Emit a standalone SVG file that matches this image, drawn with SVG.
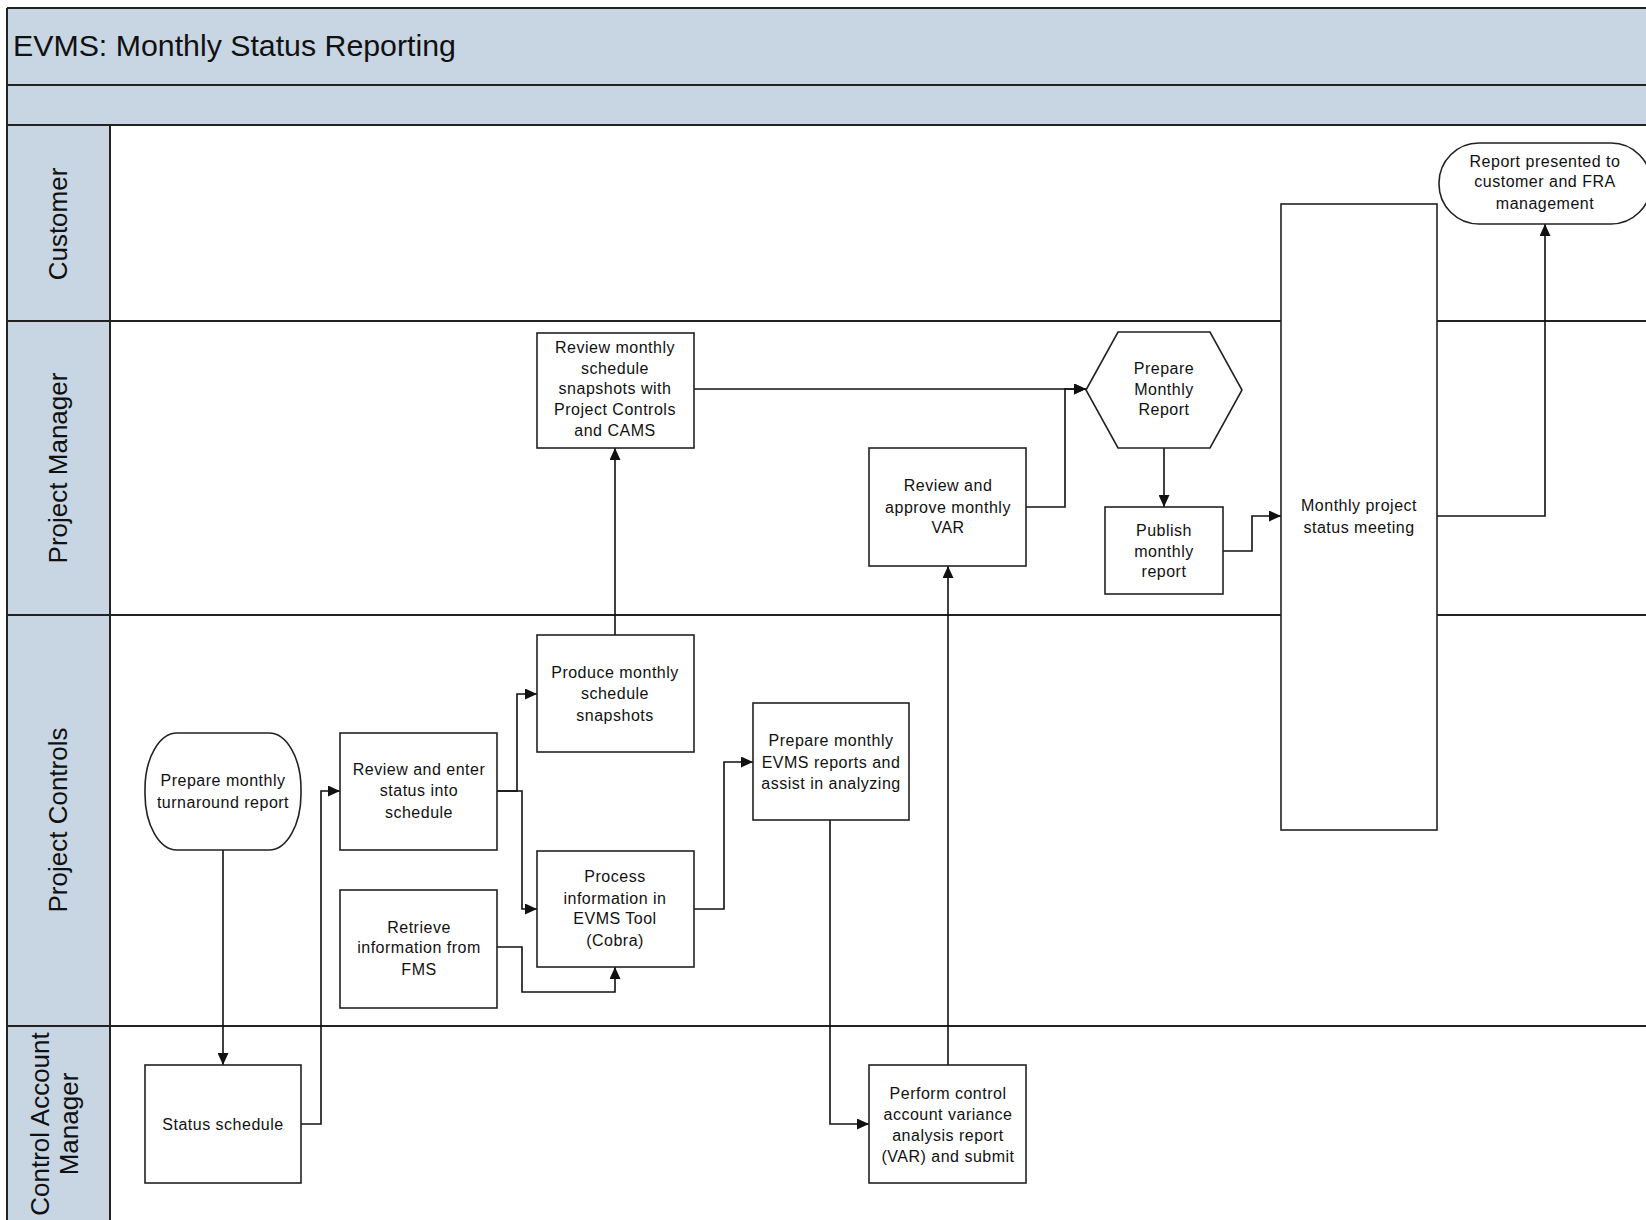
<svg xmlns="http://www.w3.org/2000/svg" width="1646" height="1220" viewBox="0 0 1646 1220">
<style>
.band{fill:#c8d5e3;stroke:none}
.lane{stroke:#222;stroke-width:2;fill:none}
.box{fill:#fff;stroke:#222;stroke-width:1.6}
.t{font-family:"Liberation Sans",Arial,sans-serif;font-size:16px;letter-spacing:0.5px;fill:#111;text-anchor:middle}
.lt{font-family:"Liberation Sans",Arial,sans-serif;font-size:26px;fill:#111;text-anchor:middle}
.title{font-family:"Liberation Sans",Arial,sans-serif;font-size:30.3px;fill:#111}
.c{fill:none;stroke:#111;stroke-width:1.6}
</style>
<defs>
<marker id="ah" markerUnits="userSpaceOnUse" markerWidth="13" markerHeight="11" refX="12" refY="5.5" orient="auto">
<path d="M0,0 L12,5.5 L0,11 z" fill="#111"/>
</marker>
</defs>
<rect x="0" y="0" width="1646" height="1220" fill="#fff"/>
<g id="frame">
<rect class="band" x="7" y="8" width="1639" height="117"/>
<rect class="band" x="7" y="125" width="103" height="1095"/>
<line class="lane" x1="7" y1="8" x2="1646" y2="8"/>
<line class="lane" x1="7" y1="8" x2="7" y2="1220"/>
<line class="lane" x1="7" y1="85" x2="1646" y2="85"/>
<line class="lane" x1="7" y1="125" x2="1646" y2="125"/>
<line class="lane" x1="7" y1="321" x2="1646" y2="321"/>
<line class="lane" x1="7" y1="615" x2="1646" y2="615"/>
<line class="lane" x1="7" y1="1026" x2="1646" y2="1026"/>
<line class="lane" x1="110" y1="125" x2="110" y2="1220"/>
<text class="title" x="13" y="56">EVMS: Monthly Status Reporting</text>
<text class="lt" transform="translate(67,224) rotate(-90)">Customer</text>
<text class="lt" transform="translate(67,468) rotate(-90)">Project Manager</text>
<text class="lt" transform="translate(67,820) rotate(-90)">Project Controls</text>
<text class="lt" transform="translate(49,1124) rotate(-90)">Control Account</text>
<text class="lt" transform="translate(78,1124) rotate(-90)">Manager</text>
</g>
<g id="connectors">
<polyline class="c" points="223,850 223,1065" marker-end="url(#ah)"/>
<polyline class="c" points="301,1124 321,1124 321,791 340,791" marker-end="url(#ah)"/>
<polyline class="c" points="497,791 517,791 517,694 537,694" marker-end="url(#ah)"/>
<polyline class="c" points="497,791 522,791 522,909 537,909" marker-end="url(#ah)"/>
<polyline class="c" points="497,947 522,947 522,992 615,992 615,967" marker-end="url(#ah)"/>
<polyline class="c" points="615,635 615,448" marker-end="url(#ah)"/>
<polyline class="c" points="694,909 724,909 724,762 753,762" marker-end="url(#ah)"/>
<polyline class="c" points="830,820 830,1124 869,1124" marker-end="url(#ah)"/>
<polyline class="c" points="948,1065 948,566" marker-end="url(#ah)"/>
<polyline class="c" points="1026,507 1065,507 1065,389 1086,389" marker-end="url(#ah)"/>
<polyline class="c" points="694,389 1086,389" marker-end="url(#ah)"/>
<polyline class="c" points="1164,448 1164,507" marker-end="url(#ah)"/>
<polyline class="c" points="1223,551 1252,551 1252,516 1281,516" marker-end="url(#ah)"/>
<polyline class="c" points="1437,516 1545,516 1545,224" marker-end="url(#ah)"/>
</g>
<g id="n-report-presented">
<rect class="box" x="1439" y="143" width="212" height="81" rx="40" ry="40"/>
<text class="t"><tspan x="1545" y="167">Report presented to</tspan><tspan x="1545" y="187">customer and FRA</tspan><tspan x="1545" y="209">management</tspan></text>
</g>
<g id="n-review-snapshots">
<rect class="box" x="537" y="333" width="157" height="115"/>
<text class="t"><tspan x="615" y="353">Review monthly</tspan><tspan x="615" y="374">schedule</tspan><tspan x="615" y="394">snapshots with</tspan><tspan x="615" y="415">Project Controls</tspan><tspan x="615" y="436">and CAMS</tspan></text>
</g>
<g id="n-prepare-monthly-report">
<polygon class="box" points="1086,390 1118,332 1210,332 1242,390 1210,448 1118,448"/>
<text class="t"><tspan x="1164" y="374">Prepare</tspan><tspan x="1164" y="395">Monthly</tspan><tspan x="1164" y="415">Report</tspan></text>
</g>
<g id="n-review-approve-var">
<rect class="box" x="869" y="448" width="157" height="118"/>
<text class="t"><tspan x="948" y="491">Review and</tspan><tspan x="948" y="513">approve monthly</tspan><tspan x="948" y="533">VAR</tspan></text>
</g>
<g id="n-publish">
<rect class="box" x="1105" y="507" width="118" height="87"/>
<text class="t"><tspan x="1164" y="536">Publish</tspan><tspan x="1164" y="557">monthly</tspan><tspan x="1164" y="577">report</tspan></text>
</g>
<g id="n-meeting">
<rect class="box" x="1281" y="204" width="156" height="626"/>
<text class="t"><tspan x="1359" y="511">Monthly project</tspan><tspan x="1359" y="533">status meeting</tspan></text>
</g>
<g id="n-turnaround">
<rect class="box" x="145" y="733" width="156" height="117" rx="32" ry="56"/>
<text class="t"><tspan x="223" y="786">Prepare monthly</tspan><tspan x="223" y="808">turnaround report</tspan></text>
</g>
<g id="n-review-enter">
<rect class="box" x="340" y="733" width="157" height="117"/>
<text class="t"><tspan x="419" y="775">Review and enter</tspan><tspan x="419" y="796">status into</tspan><tspan x="419" y="818">schedule</tspan></text>
</g>
<g id="n-retrieve">
<rect class="box" x="340" y="890" width="157" height="118"/>
<text class="t"><tspan x="419" y="933">Retrieve</tspan><tspan x="419" y="953">information from</tspan><tspan x="419" y="975">FMS</tspan></text>
</g>
<g id="n-produce">
<rect class="box" x="537" y="635" width="157" height="117"/>
<text class="t"><tspan x="615" y="678">Produce monthly</tspan><tspan x="615" y="699">schedule</tspan><tspan x="615" y="721">snapshots</tspan></text>
</g>
<g id="n-process">
<rect class="box" x="537" y="851" width="157" height="116"/>
<text class="t"><tspan x="615" y="882">Process</tspan><tspan x="615" y="904">information in</tspan><tspan x="615" y="924">EVMS Tool</tspan><tspan x="615" y="946">(Cobra)</tspan></text>
</g>
<g id="n-prepare-evms">
<rect class="box" x="753" y="703" width="156" height="117"/>
<text class="t"><tspan x="831" y="746">Prepare monthly</tspan><tspan x="831" y="768">EVMS reports and</tspan><tspan x="831" y="789">assist in analyzing</tspan></text>
</g>
<g id="n-status-schedule">
<rect class="box" x="145" y="1065" width="156" height="118"/>
<text class="t"><tspan x="223" y="1130">Status schedule</tspan></text>
</g>
<g id="n-perform-var">
<rect class="box" x="869" y="1065" width="157" height="118"/>
<text class="t"><tspan x="948" y="1099">Perform control</tspan><tspan x="948" y="1120">account variance</tspan><tspan x="948" y="1141">analysis report</tspan><tspan x="948" y="1162">(VAR) and submit</tspan></text>
</g>
</svg>
